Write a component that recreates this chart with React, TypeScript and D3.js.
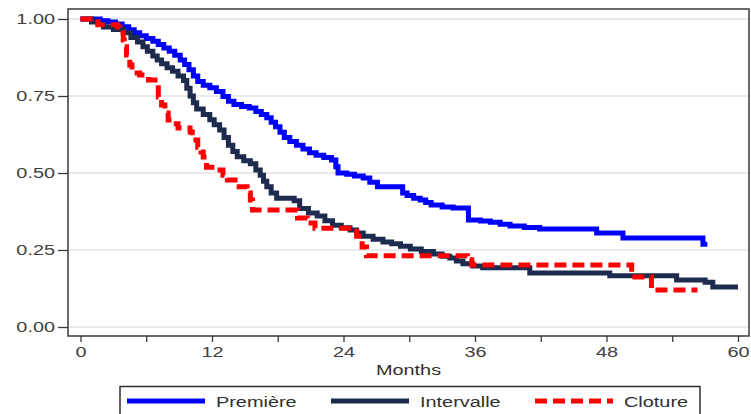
import React, { useEffect, useRef } from 'react';
import * as d3 from 'd3';

// Kaplan-Meier steps: time (months) where survival drops, and the new value
const premiereTime = [0, 1.8, 2.5, 3.2, 3.8, 4.4, 4.9, 5.4, 6.0, 6.6, 7.1, 7.6, 8.1, 8.6, 9.1, 9.5, 9.9, 10.3, 10.7, 11.2, 11.8, 12.4, 13.0, 13.5, 14.0, 14.7, 15.4, 16.0, 16.5, 17.0, 17.4, 17.8, 18.2, 18.6, 19.1, 19.7, 20.3, 20.9, 21.5, 22.2, 22.9, 23.3, 23.5, 24.3, 25.0, 25.8, 26.4, 27.1, 29.4, 29.8, 30.4, 31.0, 31.5, 32.0, 33.0, 34.0, 35.4, 36.5, 37.4, 38.3, 39.2, 40.5, 41.9, 47.1, 49.5, 56.8];
const premiereSurv = [1, 0.994, 0.99, 0.984, 0.975, 0.965, 0.955, 0.946, 0.937, 0.928, 0.917, 0.906, 0.895, 0.882, 0.867, 0.852, 0.835, 0.815, 0.797, 0.785, 0.777, 0.765, 0.748, 0.733, 0.722, 0.716, 0.711, 0.7, 0.69, 0.679, 0.665, 0.65, 0.632, 0.615, 0.602, 0.59, 0.578, 0.566, 0.558, 0.55, 0.542, 0.52, 0.5, 0.496, 0.49, 0.484, 0.47, 0.455, 0.435, 0.427, 0.418, 0.412, 0.404, 0.396, 0.39, 0.386, 0.347, 0.344, 0.34, 0.334, 0.328, 0.323, 0.318, 0.305, 0.289, 0.269];
const premiereEnd = 57.2;

const intervalleTime = [0, 1.0, 1.6, 2.1, 3.0, 3.9, 4.6, 5.2, 5.7, 6.1, 6.6, 7.0, 7.4, 7.9, 8.4, 8.9, 9.4, 9.7, 10.0, 10.3, 10.6, 11.2, 11.8, 12.2, 12.7, 13.1, 13.5, 13.9, 14.3, 14.9, 15.5, 16.0, 16.4, 16.7, 17.0, 17.4, 17.9, 19.5, 20.0, 20.8, 21.6, 22.3, 23.0, 23.8, 24.6, 25.2, 25.8, 26.7, 27.6, 28.4, 29.2, 30.1, 31.1, 32.2, 33.0, 33.7, 34.3, 34.9, 35.8, 36.7, 41.0, 48.3, 54.4, 57.0, 57.7];
const intervalleSurv = [1, 0.99, 0.982, 0.974, 0.966, 0.955, 0.94, 0.925, 0.91, 0.895, 0.88, 0.867, 0.855, 0.842, 0.83, 0.815, 0.8, 0.775, 0.75, 0.728, 0.708, 0.69, 0.673, 0.657, 0.64, 0.615, 0.59, 0.57, 0.553, 0.54, 0.53, 0.51, 0.493, 0.473, 0.455, 0.435, 0.418, 0.41, 0.385, 0.37, 0.36, 0.345, 0.33, 0.322, 0.315, 0.305, 0.295, 0.285, 0.276, 0.27, 0.262, 0.253, 0.245, 0.237, 0.23, 0.224, 0.214, 0.205, 0.198, 0.192, 0.175, 0.166, 0.153, 0.145, 0.13];
const intervalleEnd = 60;

const clotureTime = [0, 1.3, 1.6, 3.4, 3.6, 3.9, 4.0, 4.2, 4.5, 4.7, 5.4, 6.2, 6.8, 7.1, 7.4, 7.7, 8.0, 8.5, 8.9, 10.0, 10.2, 10.7, 11.0, 11.2, 11.5, 12.5, 13.0, 13.4, 14.1, 15.2, 15.5, 15.7, 19.8, 20.7, 21.4, 25.2, 25.7, 26.1, 35.3, 35.7, 50.3, 52.1];
const clotureSurv = [1, 0.99, 0.981, 0.974, 0.955, 0.932, 0.91, 0.883, 0.851, 0.825, 0.818, 0.802, 0.786, 0.747, 0.721, 0.695, 0.672, 0.66, 0.646, 0.633, 0.607, 0.584, 0.568, 0.552, 0.519, 0.51, 0.493, 0.477, 0.455, 0.435, 0.412, 0.38, 0.354, 0.338, 0.321, 0.295, 0.26, 0.231, 0.218, 0.201, 0.162, 0.12];
const clotureEnd = 56.3;

const yTicks = [0, 0.25, 0.5, 0.75, 1];
const xTicks = [0, 6, 12, 18, 24, 30, 36, 42, 48, 54, 60];
const legendLabels = ['Première', 'Intervalle', 'Cloture'];

const App = () => {
  const svgRef = useRef<SVGSVGElement>(null);

  useEffect(() => {
    const svg = d3.select(svgRef.current);
    svg.selectAll('*').remove();

    const frame = { left: 68, top: 9, right: 749, bottom: 336 };
    const font = 'Arial, "Liberation Sans", sans-serif';
    const stretch = 1.42; // the source text is wide

    const x = d3.scaleLinear().domain([0, 60]).range([80.5, 738]);
    const y = d3.scaleLinear().domain([0, 1]).range([327, 19]);

    // gridlines
    svg
      .append('g')
      .selectAll('line')
      .data(yTicks)
      .enter()
      .append('line')
      .attr('x1', frame.left)
      .attr('x2', frame.right)
      .attr('y1', d => y(d))
      .attr('y2', d => y(d))
      .attr('stroke', '#e3e3e3')
      .attr('stroke-width', 1.5);

    const series = [
      { t: premiereTime, s: premiereSurv, end: premiereEnd, color: '#0000ff', dash: null },
      { t: intervalleTime, s: intervalleSurv, end: intervalleEnd, color: '#1c2b4e', dash: null },
      { t: clotureTime, s: clotureSurv, end: clotureEnd, color: '#ff0000', dash: '12,6' },
    ];

    const line = d3
      .line<[number, number]>()
      .x(d => x(d[0]))
      .y(d => y(d[1]))
      .curve(d3.curveStepAfter);

    series.forEach(sr => {
      const pts: [number, number][] = sr.t.map((t, i) => [t, sr.s[i]]);
      pts.push([sr.end, sr.s[sr.s.length - 1]]);
      svg
        .append('path')
        .attr('d', line(pts))
        .attr('fill', 'none')
        .attr('stroke', sr.color)
        .attr('stroke-width', 5)
        .attr('stroke-dasharray', sr.dash);
    });

    // frame
    svg
      .append('rect')
      .attr('x', frame.left)
      .attr('y', frame.top)
      .attr('width', frame.right - frame.left)
      .attr('height', frame.bottom - frame.top)
      .attr('fill', 'none')
      .attr('stroke', '#3a3a3a')
      .attr('stroke-width', 1.5);

    // axes
    const yAxis = svg
      .append('g')
      .attr('transform', `translate(${frame.left}, 0)`)
      .call(d3.axisLeft(y).tickValues(yTicks).tickFormat(d3.format('.2f')).tickSize(10).tickSizeOuter(0));
    yAxis.select('.domain').remove();

    const xAxis = svg
      .append('g')
      .attr('transform', `translate(0, ${frame.bottom})`)
      .call(
        d3
          .axisBottom(x)
          .tickValues(xTicks)
          .tickFormat(d => ((d as number) % 12 === 0 ? String(d) : ''))
          .tickSize(6)
          .tickSizeOuter(0)
      );
    xAxis.select('.domain').remove();

    [yAxis, xAxis].forEach(ax => {
      ax.selectAll('line').attr('stroke', '#3a3a3a').attr('stroke-width', 1.3);
      ax.selectAll('text')
        .style('font-family', font)
        .style('font-size', '14px')
        .attr('fill', '#404040')
        .attr('transform', `scale(${stretch},1)`);
    });
    xAxis.selectAll('text').attr('dy', '0.95em').attr('y', 8);
    yAxis.selectAll('text').attr('x', -13 / stretch);

    svg
      .append('text')
      .attr('transform', `translate(${(frame.left + frame.right) / 2}, 375) scale(${stretch},1)`)
      .attr('text-anchor', 'middle')
      .style('font-family', font)
      .style('font-size', '14px')
      .attr('fill', '#303030')
      .text('Months');

    // legend
    svg
      .append('rect')
      .attr('x', 120)
      .attr('y', 386.5)
      .attr('width', 580)
      .attr('height', 40)
      .attr('fill', 'none')
      .attr('stroke', '#303030')
      .attr('stroke-width', 1.5);

    const legend = svg
      .selectAll('.legend')
      .data(series)
      .enter()
      .append('g')
      .attr('transform', (_, i) => `translate(${127 + i * 204}, 401)`);

    legend
      .append('line')
      .attr('x1', 0)
      .attr('x2', 78)
      .attr('y1', 0)
      .attr('y2', 0)
      .attr('stroke', d => d.color)
      .attr('stroke-width', 5)
      .attr('stroke-dasharray', d => d.dash);

    legend
      .append('text')
      .attr('transform', `translate(89, 6) scale(${stretch},1)`)
      .style('font-family', font)
      .style('font-size', '14px')
      .attr('fill', '#303030')
      .text((_, i) => legendLabels[i]);
  }, []);

  return <svg ref={svgRef} width={751} height={414} style={{ position: 'absolute', left: 0, top: 0 }} />;
};

export default App;
